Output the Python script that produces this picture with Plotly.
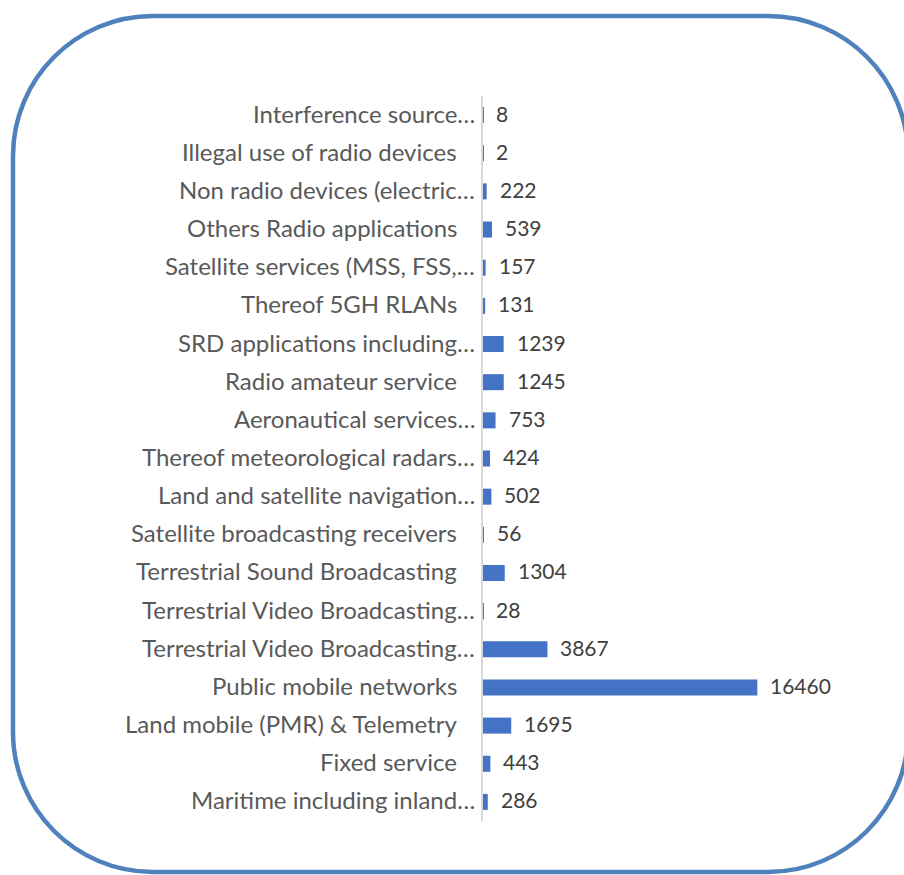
import plotly.graph_objects as go

# Interference cases by radio service (bottom to top)
categories = [
    "Maritime including inland…",
    "Fixed service",
    "Land mobile (PMR) & Telemetry",
    "Public mobile networks",
    "Terrestrial Video Broadcasting…",
    "Terrestrial Video Broadcasting…",
    "Terrestrial Sound Broadcasting",
    "Satellite broadcasting receivers",
    "Land and satellite navigation…",
    "Thereof meteorological radars…",
    "Aeronautical services…",
    "Radio amateur service",
    "SRD applications including…",
    "Thereof 5GH RLANs",
    "Satellite services (MSS, FSS,…",
    "Others Radio applications",
    "Non radio devices (electric…",
    "Illegal use of radio devices",
    "Interference source…",
]
values = [286, 443, 1695, 16460, 3867, 28, 1304, 56, 502, 424, 753,
          1245, 1239, 131, 157, 539, 222, 2, 8]

W, H = 904, 875
L, R, T, B = 483, 783, 96, 821  # plot area in pixels
X_MAX = 18000

BAR = "#4472C4"
FRAME = "#4F81BD"
FONT = "Lato, 'Open Sans', sans-serif"

positions = list(range(len(categories)))


def px(x):
    return (x - L) / (R - L)


def py(y):
    return (B - y) / (B - T)


def rounded_rect(x0, y0, x1, y1, r):
    k = 0.5523 * r
    pts = [
        f"M{px(x0 + r)},{py(y0)}",
        f"L{px(x1 - r)},{py(y0)}",
        f"C{px(x1 - r + k)},{py(y0)} {px(x1)},{py(y0 + r - k)} {px(x1)},{py(y0 + r)}",
        f"L{px(x1)},{py(y1 - r)}",
        f"C{px(x1)},{py(y1 - r + k)} {px(x1 - r + k)},{py(y1)} {px(x1 - r)},{py(y1)}",
        f"L{px(x0 + r)},{py(y1)}",
        f"C{px(x0 + r - k)},{py(y1)} {px(x0)},{py(y1 - r + k)} {px(x0)},{py(y1 - r)}",
        f"L{px(x0)},{py(y0 + r)}",
        f"C{px(x0)},{py(y0 + r - k)} {px(x0 + r - k)},{py(y0)} {px(x0 + r)},{py(y0)}",
        "Z",
    ]
    return " ".join(pts)


fig = go.Figure(
    go.Bar(
        x=values,
        y=positions,
        orientation="h",
        width=0.42,
        marker=dict(color=BAR, line=dict(width=0)),
        hoverinfo="skip",
    )
)

annotations = []
# Category labels to the left of the axis
for pos, name in zip(positions, categories):
    truncated = name.endswith("…")
    annotations.append(dict(
        x=0, xref="paper", y=pos, yref="y",
        text=name, showarrow=False,
        xanchor="right", yanchor="middle",
        xshift=-6 if truncated else -24, yshift=2,
        font=dict(family=FONT, size=24, color="#595959"),
    ))
# Value labels after each bar
for pos, v in zip(positions, values):
    annotations.append(dict(
        x=v, xref="x", y=pos, yref="y",
        text=str(v), showarrow=False,
        xanchor="left", yanchor="middle",
        xshift=11, yshift=2,
        font=dict(family=FONT, size=21, color="#404040"),
    ))

fig.update_layout(
    width=W, height=H,
    margin=dict(l=L, r=W - R, t=T, b=H - B),
    paper_bgcolor="white",
    plot_bgcolor="white",
    showlegend=False,
    xaxis=dict(range=[0, X_MAX], visible=False, fixedrange=True),
    yaxis=dict(
        range=[-0.5, len(categories) - 0.5],
        showticklabels=False, showgrid=False, zeroline=False,
        ticks="",
        showline=True, linecolor="#D9D9D9", linewidth=2,
        layer="above traces",
        fixedrange=True,
    ),
    annotations=annotations,
    shapes=[dict(
        type="path", xref="paper", yref="paper",
        path=rounded_rect(13, 16, 908, 872, 140),
        line=dict(color=FRAME, width=4.5),
        fillcolor="rgba(0,0,0,0)",
        layer="above",
    )],
)

fig.write_html("out.html")
